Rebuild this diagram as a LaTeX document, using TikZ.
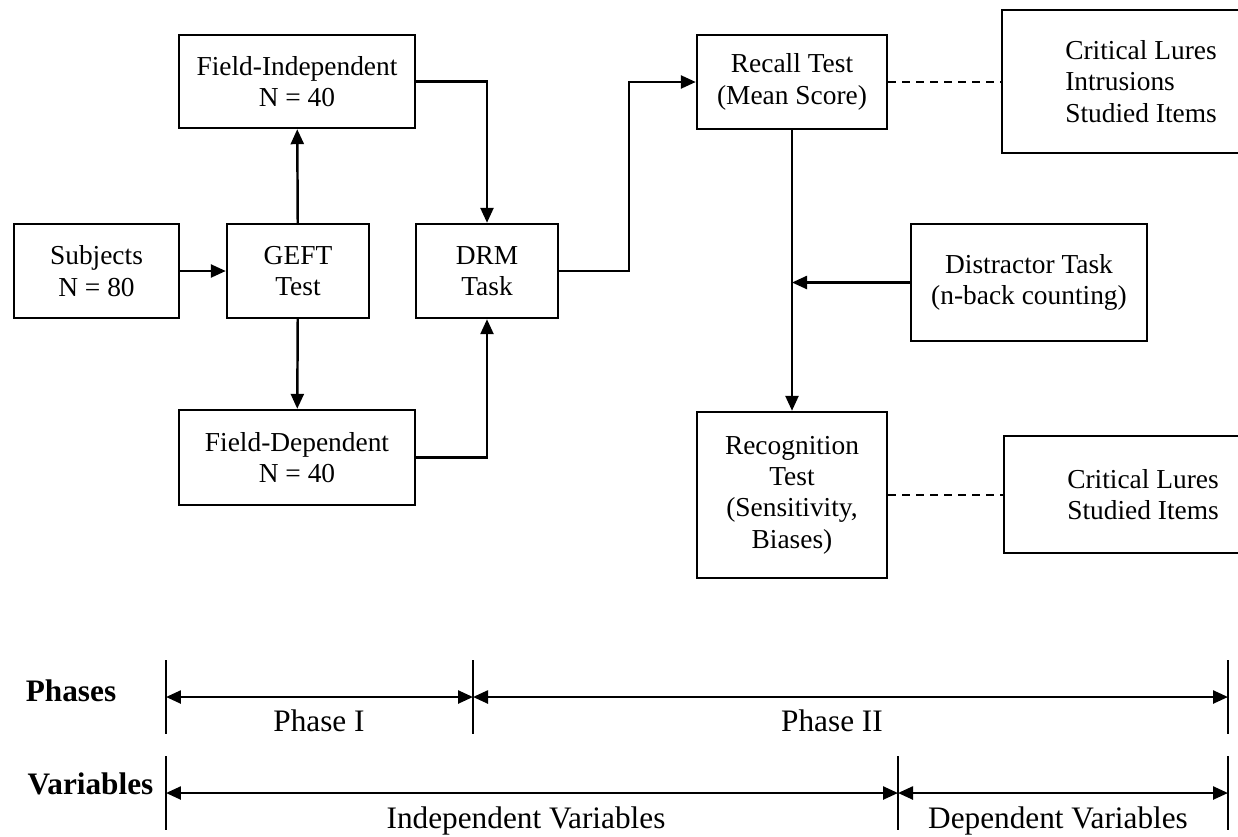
\documentclass[tikz,border=0pt]{standalone}
\usepackage{fontspec}
\setmainfont{Liberation Serif}
\usetikzlibrary{arrows.meta}

\begin{document}
\begin{tikzpicture}[x=0.02cm,y=-0.02cm,line width=1.4pt,
   >={Triangle[length=0.3cm,width=0.26cm]},
   box/.style={draw,align=center,inner sep=0pt,font=\fontsize{15.6}{17.8}\selectfont},
   lbl/.style={anchor=base,font=\fontsize{17.8}{20}\selectfont},
   hd/.style={anchor=base,font=\fontsize{17.8}{20}\selectfont\bfseries},
   link/.style={dash pattern=on 0.16cm off 0.12cm}]
   \useasboundingbox (0,0) rectangle (1238,836);

   \node[box,minimum width=3.3cm,minimum height=1.88cm] (subj) at (96.5,271) {Subjects\\N = 80};
   \node[box,minimum width=2.84cm,minimum height=1.88cm] (geft) at (298,271) {GEFT\\Test};
   \node[box,minimum width=4.72cm,minimum height=1.86cm] (fi) at (297,81.5) {Field-Independent\\N = 40};
   \node[box,minimum width=4.72cm,minimum height=1.9cm] (fd) at (297,457.5) {Field-Dependent\\N = 40};
   \node[box,minimum width=2.84cm,minimum height=1.88cm] (drm) at (487,271) {DRM\\Task};
   \node[box,minimum width=3.8cm,minimum height=1.88cm] (recall) at (792,82) {Recall Test\\(Mean Score)};
   \node[box,minimum width=3.8cm,minimum height=3.32cm] (recog) at (792,495) {Recognition\\Test\\(Sensitivity,\\Biases)};
   \node[box,minimum width=4.72cm,minimum height=2.34cm] (distr) at (1029,282.5) {Distractor Task\\(n-back counting)};
   \node[box,align=left,minimum width=5.56cm,minimum height=2.86cm] (cl1) at (1141,81.5) {Critical Lures\\Intrusions\\Studied Items};
   \node[box,align=left,minimum width=5.56cm,minimum height=2.34cm] (cl2) at (1143,494.5) {Critical Lures\\Studied Items};

   \draw[->] (subj) -- (geft);
   \draw[->] (geft) -- (fi);
   \draw[->] (geft) -- (fd);
   \draw[->] (fi.east) -| (drm.north);
   \draw[->] (fd.east) -| (drm.south);
   \draw[->] (drm.east) -- ++(70,0) |- (recall.west);
   \draw[->] (recall) -- (recog);
   \draw[->] (distr.west) -- (distr.west -| recall.south);
   \draw[link] (recall.east) -- (recall.east -| cl1.west);
   \draw[link] (recog.east) -- (recog.east -| cl2.west);

   \coordinate (p0) at (166,697);
   \coordinate (p1) at (473,697);
   \coordinate (p2) at (1228,697);
   \coordinate (v0) at (166,793);
   \coordinate (v1) at (898,793);
   \coordinate (v2) at (1228,793);
   \foreach \c in {p0,p1,p2,v0,v1,v2}
      \draw ([yshift=0.74cm]\c) -- ([yshift=-0.74cm]\c);
   \draw[<->] (p0) -- (p1);
   \draw[<->] (p1) -- (p2);
   \draw[<->] (v0) -- (v1);
   \draw[<->] (v1) -- (v2);

   \node[hd] (phases) at (71,701) {Phases};
   \node[hd] (vars) at (90.5,794) {Variables};
   \node[lbl] (ph1) at (319,731) {Phase I};
   \node[lbl] (ph2) at (832,731) {Phase II};
   \node[lbl] (iv) at (526,828) {Independent Variables};
   \node[lbl] (dv) at (1058,828) {Dependent Variables};
\end{tikzpicture}
\end{document}
